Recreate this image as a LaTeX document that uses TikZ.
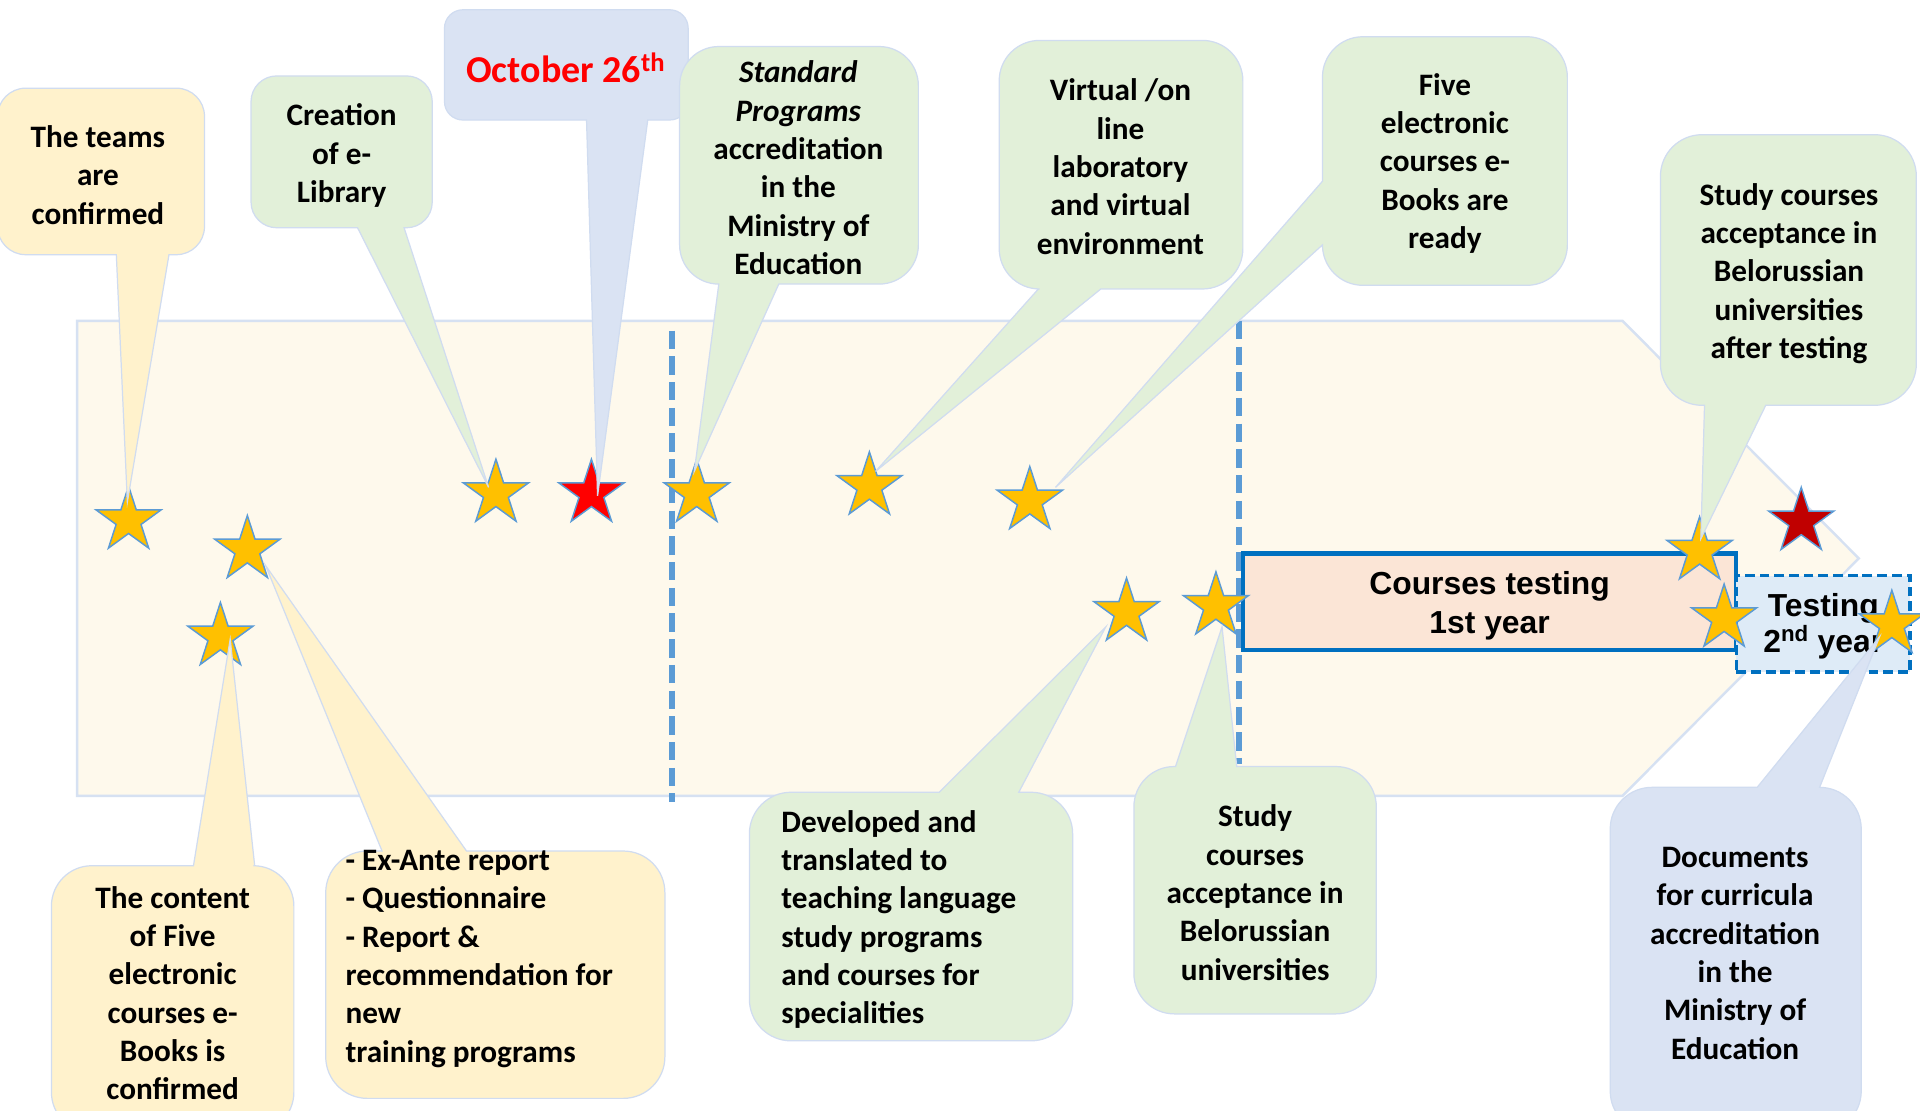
\documentclass[tikz,border=0pt]{standalone}
\usepackage{fontspec}
\setmainfont{Carlito}
\newfontfamily\boxfont{Liberation Sans}
\usetikzlibrary{shapes.geometric}

\definecolor{bandfill}{HTML}{FEF9EC}
\definecolor{bandline}{HTML}{D6E1F2}
\definecolor{cyellow}{HTML}{FFF2CC}
\definecolor{cgreen}{HTML}{E2F0D9}
\definecolor{cblue}{HTML}{DAE3F3}
\definecolor{bubline}{HTML}{D0DCF0}
\definecolor{stargold}{HTML}{FFC000}
\definecolor{starline}{HTML}{5B9BD5}
\definecolor{dashblue}{HTML}{5B9BD5}
\definecolor{boxblue}{HTML}{0070C0}
\definecolor{peach}{HTML}{FBE5D6}
\definecolor{paleblue}{HTML}{DEEBF7}
\definecolor{darkred}{HTML}{C00000}

\newcommand{\bubfont}{\fontsize{25.5}{31.3}\selectfont\bfseries}
\newcommand{\datefont}{\fontsize{31}{37}\selectfont\bfseries}
\newcommand{\yearfont}{\boxfont\fontsize{26}{32}\selectfont\bfseries}

% rounded callout, tail leaving the bottom edge
% #1 style, #2 x1, #3 y1, #4 x2, #5 y2, #6/#7 tail base, #8 tip, #9 corner radius
\newcommand{\calloutdown}[9]{%
  \filldraw[#1] (#2+#9,#3) -- (#4-#9,#3) arc[start angle=270,end angle=360,radius=#9]
    -- (#4,#5-#9) arc[start angle=0,end angle=90,radius=#9]
    -- (#7,#5) -- (#8) -- (#6,#5)
    -- (#2+#9,#5) arc[start angle=90,end angle=180,radius=#9]
    -- (#2,#3+#9) arc[start angle=180,end angle=270,radius=#9] -- cycle;}
% tail leaving the top edge
\newcommand{\calloutup}[9]{%
  \filldraw[#1] (#2+#9,#3) -- (#6,#3) -- (#8) -- (#7,#3)
    -- (#4-#9,#3) arc[start angle=270,end angle=360,radius=#9]
    -- (#4,#5-#9) arc[start angle=0,end angle=90,radius=#9]
    -- (#2+#9,#5) arc[start angle=90,end angle=180,radius=#9]
    -- (#2,#3+#9) arc[start angle=180,end angle=270,radius=#9] -- cycle;}
% tail leaving the left edge (#6 upper, #7 lower)
\newcommand{\calloutleft}[9]{%
  \filldraw[#1] (#2+#9,#3) -- (#4-#9,#3) arc[start angle=270,end angle=360,radius=#9]
    -- (#4,#5-#9) arc[start angle=0,end angle=90,radius=#9]
    -- (#2+#9,#5) arc[start angle=90,end angle=180,radius=#9]
    -- (#2,#7) -- (#8) -- (#2,#6)
    -- (#2,#3+#9) arc[start angle=180,end angle=270,radius=#9] -- cycle;}

\tikzset{
  band/.style={fill=bandfill, draw=bandline, line width=2pt},
  divider/.style={draw=dashblue, line width=4.5pt, dash pattern=on 15pt off 6pt},
  bubY/.style={fill=cyellow, draw=bubline, line width=1pt},
  bubG/.style={fill=cgreen, draw=bubline, line width=1pt},
  bubB/.style={fill=cblue, draw=bubline, line width=1pt},
  milestone/.style={star, star points=5, star point ratio=2.618, minimum size=56pt,
    inner sep=0pt, fill=stargold, draw=starline, line width=1.2pt},
  bubtext/.style={font=\bubfont, align=center, inner sep=0pt, text=black},
  bubleft/.style={font=\bubfont, align=left, inner sep=0pt, text=black, anchor=west},
  year1/.style={draw=boxblue, line width=3.5pt, fill=peach, minimum width=403pt,
    minimum height=79pt, inner sep=0pt},
  year2/.style={draw=boxblue, line width=3pt, dash pattern=on 8pt off 4pt, fill=paleblue,
    minimum width=142pt, minimum height=79pt, inner sep=0pt},
  yeartext/.style={align=center, font=\yearfont, inner sep=0pt},
}

\begin{document}
\begin{tikzpicture}[x=1pt,y=-1pt]
\useasboundingbox (0,0) rectangle (1568,907);
\clip (0,0) rectangle (1568,907);
\fill[white] (0,0) rectangle (1568,907);

% timeline band
\filldraw[band] (63,262) -- (1325,262) -- (1518,456) -- (1325,650) -- (63,650) -- cycle;

% phase dividers
\coordinate (d1a) at (549,270); \coordinate (d1b) at (549,655);
\coordinate (d2a) at (1012,262); \coordinate (d2b) at (1012,624);
\draw[divider] (d1a) -- (d1b);
\draw[divider] (d2a) -- (d2b);

% testing periods
\node[year1] (y1) at (1216.5,491.5) {};
\node[yeartext] (y1t) at (1216.5,494.5) {Courses testing\\1st year};
\node[year2] (y2) at (1489,509.5) {};
\node[yeartext, font=\boxfont\fontsize{26}{30}\selectfont\bfseries] (y2t) at (1489,511.5) {Testing\\2\textsuperscript{nd} year};

% milestones
\node[milestone] (s1) at (105,425) {};
\node[milestone] (s2) at (202,449) {};
\node[milestone] (s3) at (180,520) {};
\node[milestone] (s4) at (405,403) {};
\node[milestone, fill=red] (s5) at (483,403) {};
\node[milestone] (s6) at (569,403) {};
\node[milestone] (s7) at (710,397) {};
\node[milestone] (s8) at (841,409) {};
\node[milestone] (s9) at (920,500) {};
\node[milestone] (s10) at (993,495) {};
\node[milestone] (s11) at (1388,450) {};
\node[milestone, fill=darkred] (s12) at (1471,426) {};
\node[milestone] (s13) at (1408,505) {};
\node[milestone] (s14) at (1545,510) {};

% callout tips
\coordinate (pA) at (104,410);
\coordinate (pB) at (399,398);
\coordinate (pC) at (488,405);
\coordinate (pD) at (567,385);
\coordinate (pE) at (715,385);
\coordinate (pF) at (862,398);
\coordinate (pG) at (1389,440);
\coordinate (pH) at (188,522);
\coordinate (pI) at (217,462);
\coordinate (pJ) at (903,512);
\coordinate (pK) at (998,512);
\coordinate (pL) at (1535,520);

% callouts
\calloutdown{bubY}{-2}{72}{167}{208}{95}{138}{pA}{23}
\calloutdown{bubG}{205}{62}{353}{186}{292}{330}{pB}{21}
\calloutdown{bubB}{363}{8}{562}{98}{479}{529}{pC}{15}
\calloutdown{bubG}{555}{38}{750}{232}{587}{636}{pD}{32}
\calloutdown{bubG}{816}{33}{1015}{236}{848}{899}{pE}{33}
\calloutleft{bubG}{1080}{30}{1280}{233}{148}{200}{pF}{33}
\calloutdown{bubG}{1356}{110}{1565}{331}{1392}{1442}{pG}{34}
\calloutup{bubY}{42}{707}{240}{925}{158}{208}{pH}{33}
\calloutup{bubY}{266}{695}{543}{897}{312}{381}{pI}{34}
\calloutup{bubG}{612}{647}{876}{850}{767}{832}{pJ}{34}
\calloutup{bubG}{926}{626}{1124}{828}{960}{1010}{pK}{33}
\calloutup{bubB}{1315}{643}{1520}{925}{1435}{1486}{pL}{34}

% callout texts
\node[bubtext] (nA) at (80,143) {The teams\\are\\confirmed};
\node[bubtext] (nB) at (279,127) {Creation\\of e-\\Library};
\node[bubtext, font=\datefont, text=red] (nC) at (462,55) {October 26\textsuperscript{th}};
\node[bubtext] (nD) at (652,137) {\textit{Standard}\\\textit{Programs}\\accreditation\\in the\\Ministry of\\Education};
\node[bubtext] (nE) at (915,136) {Virtual /on\\line\\laboratory\\and virtual\\environment};
\node[bubtext] (nF) at (1180,133.5) {Five\\electronic\\courses e-\\Books are\\ready};
\node[bubtext] (nG) at (1461,223.5) {Study courses\\acceptance in\\Belorussian\\universities\\after testing};
\node[bubtext] (nH) at (141,811) {The content\\of Five\\electronic\\courses e-\\Books is\\confirmed};
\node[bubleft] (nI) at (282,783) {- Ex-Ante report\\- Questionnaire\\- Report \&\\recommendation for\\new\\training programs};
\node[bubleft] (nJ) at (638,751) {Developed and\\translated to\\teaching language\\study programs\\and courses for\\specialities};
\node[bubtext] (nK) at (1025,729) {Study\\courses\\acceptance in\\Belorussian\\universities};
\node[bubtext] (nL) at (1417,778.5) {Documents\\for curricula\\accreditation\\in the\\Ministry of\\Education};
\end{tikzpicture}
\end{document}
